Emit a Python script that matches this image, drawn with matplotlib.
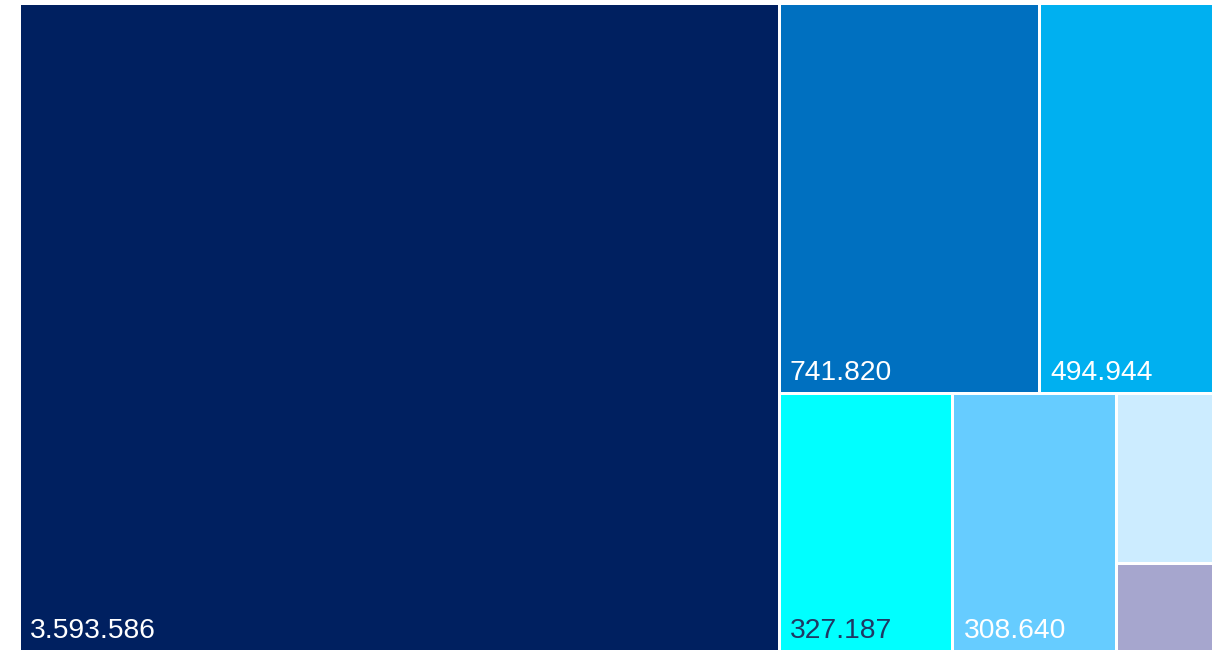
import matplotlib
matplotlib.use("Agg")
import matplotlib.pyplot as plt
from matplotlib.patches import Rectangle

# ---- data ----
values = [3593586, 741820, 494944, 327187, 308640, 120000, 62000]
colors = ["#002060", "#0070C0", "#00B0F0", "#00FFFF", "#66CCFF", "#CCECFF", "#A6A6CE"]
text_colors = ["white", "white", "white", "#1F3864", "white", "white", "white"]

# nesting of the tiles: 'h' = side by side, 'v' = stacked (top to bottom)
structure = ("h", [0, ("v", [("h", [1, 2]), ("h", [3, 4, ("v", [5, 6])])])])


def node_value(node):
    if isinstance(node, int):
        return values[node]
    return sum(node_value(c) for c in node[1])


def layout(node, x, y, w, h, out):
    if isinstance(node, int):
        out[node] = (x, y, w, h)
        return
    kind, children = node
    total = node_value(node)
    if kind == "h":
        cx = x
        for c in children:
            cw = w * node_value(c) / total
            layout(c, cx, y, cw, h, out)
            cx += cw
    else:
        cy = y + h  # top
        for c in children:
            ch = h * node_value(c) / total
            cy -= ch
            layout(c, x, cy, w, ch, out)


W, H = 1194.0, 649.0
rects = {}
layout(structure, 0, 0, W, H, rects)

fig = plt.figure(figsize=(12.12, 6.5), dpi=100)
ax = fig.add_axes([19 / 1212, -1.5 / 650, W / 1212, H / 650])
ax.set_xlim(0, W)
ax.set_ylim(0, H)
ax.axis("off")

lw_pt = 3 * 72 / 100
for i, v in enumerate(values):
    x, y, w, h = rects[i]
    ax.add_patch(Rectangle((x, y), w, h, facecolor=colors[i], edgecolor="white", linewidth=lw_pt))
    label = f"{v:,}".replace(",", ".")
    if w > 115 and h > 40:
        ax.text(x + 11, y + 13.5, label, color=text_colors[i], fontsize=20.3,
                family="Liberation Sans", ha="left", va="baseline")

fig.savefig("out.png", dpi=100)
